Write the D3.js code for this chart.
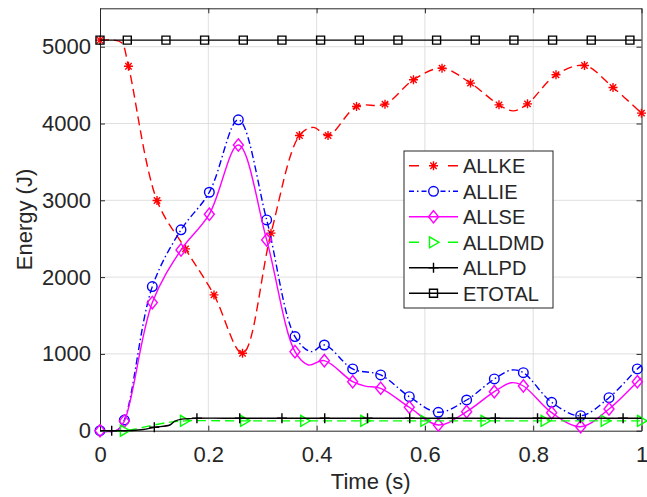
<!DOCTYPE html>
<html>
<head>
<meta charset="utf-8">
<script src="https://cdn.jsdelivr.net/npm/d3@7"></script>
<style>
  body { margin: 0; background: #fff; }
  text { font-family: "Liberation Sans", Arial, sans-serif; fill: #262626; }
</style>
</head>
<body>
<div id="vis"></div>
<script>

////////////////////////////////////////
/////////////// Data ///////////////////
////////////////////////////////////////

// each series: time, value, and a flag telling which points carry a marker
const keTime  = [0, 0.025, 0.04, 0.0526, 0.1053, 0.1579, 0.2105, 0.2632, 0.3158, 0.3684, 0.394, 0.4211, 0.4737, 0.5263, 0.5789, 0.6316, 0.6842, 0.7368, 0.763, 0.7895, 0.8421, 0.8947, 0.9474, 1.0];
const keValue = [5085, 5085, 5050, 4745, 2997, 2367, 1768, 1008, 2572, 3843, 3950, 3843, 4221, 4252, 4569, 4721, 4526, 4243, 4165, 4256, 4634, 4755, 4469, 4135];
const keMark  = [1, 0, 0, 1, 1, 1, 1, 1, 1, 1, 0, 1, 1, 1, 1, 1, 1, 1, 0, 1, 1, 1, 1, 1];

const ieTime  = [0, 0.03, 0.0449, 0.0966, 0.1496, 0.2019, 0.2555, 0.3078, 0.3601, 0.39, 0.4143, 0.4666, 0.5183, 0.5712, 0.6248, 0.6771, 0.7282, 0.76, 0.7818, 0.8341, 0.8877, 0.94, 0.9923, 1.0];
const ieValue = [0, 0, 139, 1876, 2615, 3105, 4048, 2745, 1225, 1030, 1116, 804, 726, 443, 240, 400, 674, 790, 756, 370, 195, 430, 804, 850];
const ieMark  = [1, 0, 1, 1, 1, 1, 1, 1, 1, 0, 1, 1, 1, 1, 1, 1, 1, 0, 1, 1, 1, 1, 1, 0];

const seTime  = [0, 0.03, 0.0449, 0.0966, 0.1496, 0.2019, 0.2555, 0.3078, 0.3601, 0.385, 0.4143, 0.4666, 0.49, 0.5183, 0.5712, 0.6248, 0.6771, 0.7282, 0.76, 0.7818, 0.8341, 0.8877, 0.94, 0.9923, 1.0];
const seValue = [0, 0, 125, 1668, 2354, 2819, 3720, 2484, 1029, 856, 912, 638, 580, 552, 305, 74, 248, 508, 625, 582, 235, 52, 283, 638, 690];
const seMark  = [1, 0, 1, 1, 1, 1, 1, 1, 1, 0, 1, 1, 0, 1, 1, 1, 1, 1, 0, 1, 1, 1, 1, 1, 0];

const dmdTime  = [0, 0.045, 0.07, 0.1, 0.13, 0.156, 0.267, 0.378, 0.489, 0.6, 0.711, 0.822, 0.933, 1.0];
const dmdValue = [0, 0, 30, 75, 112, 128, 128, 128, 128, 128, 128, 128, 128, 128];
const dmdMark  = [0, 1, 0, 0, 0, 1, 1, 1, 1, 1, 1, 1, 1, 1];

const pdTime  = [0, 0.0216, 0.06, 0.08, 0.1003, 0.129, 0.1385, 0.151, 0.179, 0.258, 0.336, 0.415, 0.494, 0.572, 0.651, 0.73, 0.808, 0.887, 0.966, 1.0];
const pdValue = [0, 0, 3, 15, 44, 74, 125, 150, 162, 162, 162, 162, 162, 162, 162, 162, 162, 162, 162, 162];
const pdMark  = [0, 1, 0, 0, 1, 0, 0, 0, 1, 1, 1, 1, 1, 1, 1, 1, 1, 1, 1, 0];

const etTime  = [0, 0.0504, 0.1218, 0.1932, 0.2646, 0.336, 0.4074, 0.4788, 0.5502, 0.6216, 0.693, 0.7644, 0.8358, 0.9072, 0.9786, 1.0];
const etValue = [5085, 5085, 5085, 5085, 5085, 5085, 5085, 5085, 5085, 5085, 5085, 5085, 5085, 5085, 5085, 5085];
const etMark  = [1, 1, 1, 1, 1, 1, 1, 1, 1, 1, 1, 1, 1, 1, 1, 0];

const seriesNames = ["ALLKE", "ALLIE", "ALLSE", "ALLDMD", "ALLPD", "ETOTAL"];

const xTicks = [0, 0.2, 0.4, 0.6, 0.8, 1];
const xTickLabels = ["0", "0.2", "0.4", "0.6", "0.8", "1"];
const yTicks = [0, 1000, 2000, 3000, 4000, 5000];
const yTickLabels = ["0", "1000", "2000", "3000", "4000", "5000"];

////////////////////////////////////////
////////////// Setup ///////////////////
////////////////////////////////////////

const width = 647, height = 497;
const plot = { left: 100, right: 641.5, top: 8.3, bottom: 430.7 };

const svg = d3.select("#vis").append("svg")
  .attr("width", width)
  .attr("height", height);

const x = d3.scaleLinear().domain([0, 1]).range([plot.left, plot.right]);
const y = d3.scaleLinear().domain([0, 5500]).range([plot.bottom, plot.top]);

const axisColor = "#262626";

// grid
svg.append("g")
  .selectAll("line")
  .data(xTicks.filter(d => d > 0 && d < 1))
  .join("line")
  .attr("x1", d => x(d)).attr("x2", d => x(d))
  .attr("y1", plot.top).attr("y2", plot.bottom)
  .attr("stroke", "#dfdfdf").attr("stroke-width", 1);

svg.append("g")
  .selectAll("line")
  .data(yTicks.filter(d => d > 0))
  .join("line")
  .attr("x1", plot.left).attr("x2", plot.right)
  .attr("y1", d => y(d)).attr("y2", d => y(d))
  .attr("stroke", "#dfdfdf").attr("stroke-width", 1);

// axes (ticks point inwards, box on)
const fmtX = (d, i) => xTickLabels[i];
const fmtY = (d, i) => yTickLabels[i];

const gx = svg.append("g")
  .attr("transform", `translate(0,${plot.bottom})`)
  .call(d3.axisBottom(x).tickValues(xTicks).tickFormat(fmtX).tickSizeInner(-5).tickSizeOuter(0).tickPadding(16));

const gy = svg.append("g")
  .attr("transform", `translate(${plot.left},0)`)
  .call(d3.axisLeft(y).tickValues(yTicks).tickFormat(fmtY).tickSizeInner(-5).tickSizeOuter(0).tickPadding(9));

const gt = svg.append("g")
  .attr("transform", `translate(0,${plot.top})`)
  .call(d3.axisTop(x).tickValues(xTicks).tickFormat("").tickSizeInner(-5).tickSizeOuter(0));

const gr = svg.append("g")
  .attr("transform", `translate(${plot.right},0)`)
  .call(d3.axisRight(y).tickValues(yTicks).tickFormat("").tickSizeInner(-5).tickSizeOuter(0));

[gx, gy, gt, gr].forEach(g => {
  g.select(".domain").attr("stroke", axisColor).attr("stroke-width", 1);
  g.selectAll(".tick line").attr("stroke", axisColor);
  g.selectAll(".tick text")
    .attr("fill", axisColor)
    .attr("font-size", 22)
    .attr("font-family", "Liberation Sans, Arial, sans-serif");
});

// axis titles
svg.append("text")
  .attr("x", (plot.left + plot.right) / 2)
  .attr("y", 489)
  .attr("text-anchor", "middle")
  .attr("font-size", 22)
  .text("Time (s)");

svg.append("text")
  .attr("transform", `translate(31.5,${(plot.top + plot.bottom) / 2}) rotate(-90)`)
  .attr("text-anchor", "middle")
  .attr("font-size", 22)
  .text("Energy (J)");

////////////////////////////////////////
////////////// Series //////////////////
////////////////////////////////////////

const markers = {
  star: "M-4.5,0H4.5M0,-4.5V4.5M-3.2,-3.2L3.2,3.2M-3.2,3.2L3.2,-3.2",
  circle: "M4.8,0A4.8,4.8 0 1,1 -4.8,0A4.8,4.8 0 1,1 4.8,0Z",
  diamond: "M0,-6.2L5,0L0,6.2L-5,0Z",
  triangle: "M-4,-5.5L5.5,0L-4,5.5Z",
  plus: "M-5,0H5M0,-5V5",
  square: "M-4,-4H4V4H-4Z"
};

const series = [
  { name: seriesNames[0], t: keTime, v: keValue, m: keMark, color: "#ff0000", dash: "9,5", marker: "star", legendDash: "10,29,10" },
  { name: seriesNames[1], t: ieTime, v: ieValue, m: ieMark, color: "#0000ff", dash: "7,3,1.5,3", marker: "circle", legendDash: "5,3,1.5,3,5,14,5,3,1.5,3,5" },
  { name: seriesNames[2], t: seTime, v: seValue, m: seMark, color: "#ff00ff", dash: null, marker: "diamond", legendDash: null },
  { name: seriesNames[3], t: dmdTime, v: dmdValue, m: dmdMark, color: "#00ff00", dash: "9,5", marker: "triangle", legendDash: "10,29,10" },
  { name: seriesNames[4], t: pdTime, v: pdValue, m: pdMark, color: "#000000", dash: null, marker: "plus", legendDash: null },
  { name: seriesNames[5], t: etTime, v: etValue, m: etMark, color: "#000000", dash: null, marker: "square", legendDash: null }
];

const line = d3.line()
  .x(d => x(d.t))
  .y(d => y(d.v))
  .curve(d3.curveCatmullRom.alpha(0.5));

series.forEach(s => {
  const pts = s.t.map((t, i) => ({ t: t, v: s.v[i], m: s.m[i] }));
  const g = svg.append("g");

  g.append("path")
    .datum(pts)
    .attr("d", line)
    .attr("fill", "none")
    .attr("stroke", s.color)
    .attr("stroke-width", 1.4)
    .attr("stroke-dasharray", s.dash);

  g.selectAll(".mk")
    .data(pts.filter(d => d.m))
    .join("path")
    .attr("class", "mk")
    .attr("transform", d => `translate(${x(d.t)},${y(d.v)})`)
    .attr("d", markers[s.marker])
    .attr("fill", "none")
    .attr("stroke", s.color)
    .attr("stroke-width", 1.4);
});

////////////////////////////////////////
////////////// Legend //////////////////
////////////////////////////////////////

const legend = svg.append("g");

legend.append("rect")
  .attr("x", 404).attr("y", 151)
  .attr("width", 149).attr("height", 157)
  .attr("fill", "#fff")
  .attr("stroke", axisColor)
  .attr("stroke-width", 1);

const rows = legend.selectAll(".row")
  .data(series)
  .join("g")
  .attr("class", "row")
  .attr("transform", (d, i) => `translate(0,${165.8 + i * 25.5})`);

rows.append("line")
  .attr("x1", 409).attr("x2", 458)
  .attr("stroke", d => d.color)
  .attr("stroke-width", 1.4)
  .attr("stroke-dasharray", d => d.legendDash);

rows.append("path")
  .attr("transform", "translate(433.5,0)")
  .attr("d", d => markers[d.marker])
  .attr("fill", "none")
  .attr("stroke", d => d.color)
  .attr("stroke-width", 1.4);

rows.append("text")
  .attr("x", 463)
  .attr("dy", "0.36em")
  .attr("font-size", 20)
  .attr("fill", "#000")
  .text(d => d.name);

</script>
</body>
</html>
